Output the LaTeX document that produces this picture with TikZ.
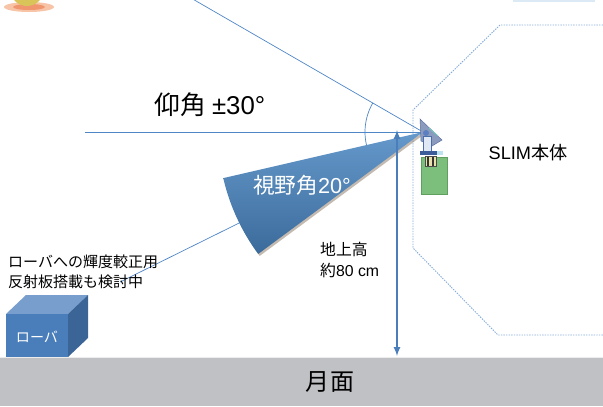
\documentclass[tikz,border=0pt]{standalone}
\usepackage{fontspec}
\setmainfont{Noto Sans CJK JP}
\newfontfamily\latinfont{Liberation Sans}
\definecolor{lineblue}{HTML}{4F86C6}
\definecolor{wedgeblue}{HTML}{4A86C2}
\definecolor{cubeblue}{HTML}{4A7EBB}
\definecolor{groundgray}{HTML}{C0C1C5}
\definecolor{bodyline}{HTML}{86ADDA}
\tikzset{
  ray/.style={lineblue,line width=0.6pt},
  outline/.style={bodyline,line width=0.8pt,dash pattern=on 1.2pt off 1pt},
  label/.style={inner sep=0pt,font=\fontsize{#1}{#1}\selectfont},
}
\begin{document}
\begin{tikzpicture}[x=0.03cm,y=-0.03cm]
\useasboundingbox(0,0)rectangle(603,406);
\clip(0,0)rectangle(603,406);
% lamp at the top edge
\fill[color={rgb,255:red,248;green,196;blue,168}](29,7)ellipse[x radius=25,y radius=5];
\fill[color={rgb,255:red,240;green,150;blue,110}](29,7)ellipse[x radius=16,y radius=3];
\fill[color={rgb,255:red,217;green,196;blue,90}](27,-11)circle(17);
\fill[color={rgb,255:red,220;green,234;blue,246}](513,0)rectangle(595,1.5);
% SLIM body outline
\draw[outline](603,25)--(500,25)--(413,110)--(413,248)--(498,335)--(603,335);
% camera pivot and sight lines
\coordinate(cam)at(423,132);
\coordinate(note)at(120,282);
\draw[ray](cam)--++(210:290);
\draw[ray](85,132)coordinate(horiz)--(cam);
\draw[ray](cam)++(150:58)arc[start angle=150,end angle=210,radius=58];
\draw[ray](cam)--(note);
% field of view
\fill[black!55!brown,opacity=0.35](cam)++(1.5,2)--++(167:205)arc[start angle=167,end angle=143.5,radius=205]--cycle;
\shade[top color=wedgeblue!85!white,bottom color=wedgeblue!80!black](cam)--++(167:205)arc[start angle=167,end angle=143.5,radius=205]--cycle;
\node[label=18.5pt,text=white](fov)at(302,185){視野角{\latinfont 20°}};
% height arrow
\draw[<->,>=latex,color={rgb,255:red,74;green,126;blue,187},line width=1.6pt](397,130)coordinate(top)--(397,356)coordinate(foot);
% camera unit
\fill[color={rgb,255:red,124;green,191;blue,124},draw={rgb,255:red,95;green,160;blue,95}](421,157)rectangle(447,194);
\fill[color={rgb,255:red,232;green,226;blue,170},draw=black!70](425,156)rectangle(436,166);
\draw[black!80,line width=1pt](428,157)--(428,166)(433,157)--(433,166);
\fill[color={rgb,255:red,138;green,155;blue,190},draw={rgb,255:red,90;green,110;blue,160}](420,119)--(442,140)--(432,146)--(421,141)--cycle;
\fill[color={rgb,255:red,225;green,232;blue,245},draw={rgb,255:red,75;green,111;blue,168}](423,136)rectangle(431,151);
\fill[color={rgb,255:red,91;green,127;blue,192}](426,133)circle(3);
\fill[color={rgb,255:red,61;green,92;blue,154}](420,151)rectangle(437,155);
\fill[color={rgb,255:red,190;green,227;blue,240}](437,151)rectangle(443,155);
\draw[color={rgb,255:red,120;green,200;blue,190},line width=0.8pt](429,128)--(438,136);
% rover
\fill[cubeblue!75!white](6,314)--(26,295)--(88,295)--(68,314)--cycle;
\fill[cubeblue!80!black](68,314)--(88,295)--(88,338)--(68,357)--cycle;
\fill[cubeblue](6,314)rectangle(68,357);
\node[label=12pt,text=white](rover)at(37,337){ローバ};
% lunar surface
\fill[groundgray](0,357)rectangle(603,406);
\draw[white!85!gray,line width=0.8pt](0,357)--(603,357);
\node[label=20.5pt](surface)at(330,382){月面};
% labels
\node[label=22pt](elev)at(210,105){仰角 {\latinfont ±30°}};
\node[label=15.5pt](slim)at(528,153){{\latinfont SLIM}本体};
\node[label=12.8pt,anchor=west,align=left,font=\fontsize{12.8pt}{17pt}\selectfont](refl)at(8,272){ローバへの輝度較正用\\反射板搭載も検討中};
\node[label=13.5pt,anchor=west,align=left,font=\fontsize{13.5pt}{18.5pt}\selectfont](alt)at(320,260){地上高\\約{\latinfont 80 cm}};
\end{tikzpicture}
\end{document}
